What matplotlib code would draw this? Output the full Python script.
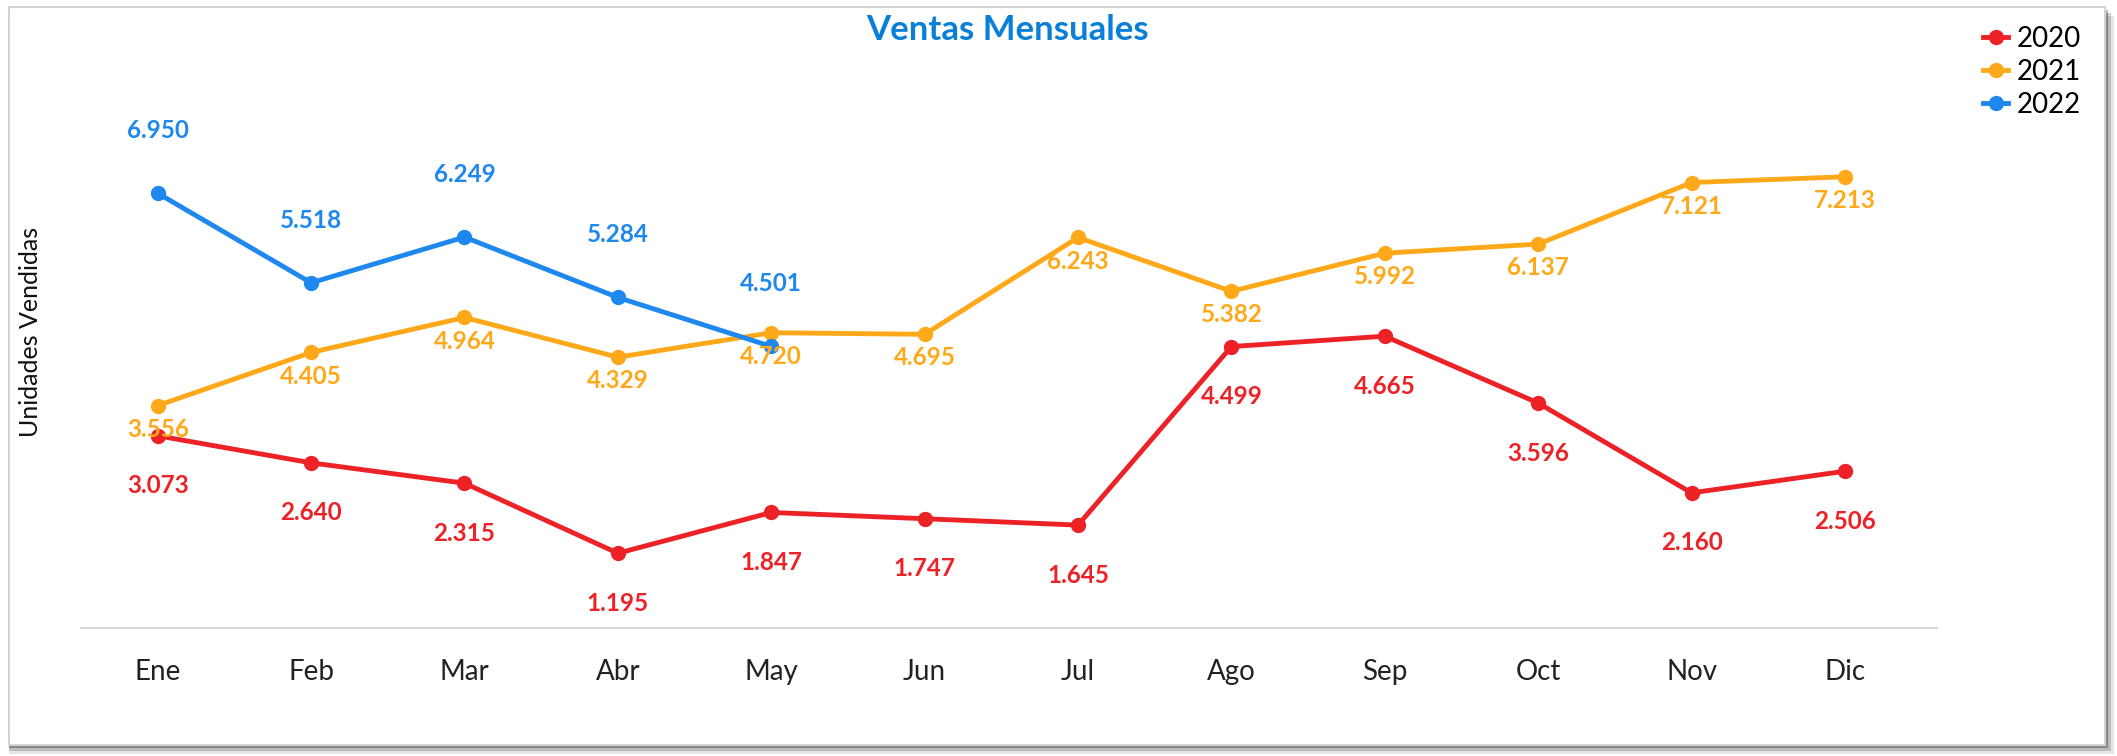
import numpy as np
import matplotlib.pyplot as plt
from matplotlib.patches import Rectangle
from matplotlib.lines import Line2D

months = ['Ene', 'Feb', 'Mar', 'Abr', 'May', 'Jun', 'Jul', 'Ago', 'Sep', 'Oct', 'Nov', 'Dic']
ventas_2020 = [3073, 2640, 2315, 1195, 1847, 1747, 1645, 4499, 4665, 3596, 2160, 2506]
ventas_2021 = [3556, 4405, 4964, 4329, 4720, 4695, 6243, 5382, 5992, 6137, 7121, 7213]
ventas_2022 = [6950, 5518, 6249, 5284, 4501]

c2020 = '#EC2227'
c2021 = '#FFA91A'
c2022 = '#1E88EE'

plt.rcParams['font.family'] = ['Lato', 'DejaVu Sans']

W, H = 2117, 756
fig = plt.figure(figsize=(W / 100, H / 100), dpi=100)
fig.patch.set_facecolor('white')

# frame with a soft shadow
for i, a in enumerate([0.10, 0.18, 0.28]):
    off = 9 - 3 * i
    fig.patches.append(Rectangle((9 / W, (H - 745 - off) / H), (2096 + off) / W, (738) / H,
                                 transform=fig.transFigure, facecolor='#000000', alpha=a,
                                 edgecolor='none', zorder=0))
fig.patches.append(Rectangle((9 / W, (H - 745) / H), 2096 / W, 738 / H,
                             transform=fig.transFigure, facecolor='white',
                             edgecolor='#D4D4D4', linewidth=1.5, zorder=1))

ax = fig.add_axes([81 / W, 1 - 628 / H, (1937 - 81) / W, (628 - 65) / H])
ax.set_facecolor('none')
ax.set_zorder(2)

x = np.arange(len(months))
series = [(ventas_2020, c2020, '2020', -36), (ventas_2021, c2021, '2021', -17),
          (ventas_2022, c2022, '2022', 45)]
for vals, col, lab, dy in series:
    xs = x[:len(vals)]
    ax.plot(xs, vals, color=col, lw=3.5, marker='o', ms=10, label=lab,
            solid_capstyle='round', zorder=3)
    for xi, v in zip(xs, vals):
        txt = f'{v:,}'.replace(',', '.')
        ax.annotate(txt, (xi, v), xytext=(0, dy), textcoords='offset points',
                    ha='center', va='center', color=col, fontsize=17.5,
                    fontweight='bold', zorder=4)

ax.set_xlim(-0.5, 11.6)
ax.set_ylim(0, 9000)
ax.set_xticks(x)
ax.set_xticklabels(months, fontsize=20, color='#222222')
ax.tick_params(axis='x', length=0, pad=22)
ax.set_yticks([])
for s in ['top', 'right', 'left']:
    ax.spines[s].set_visible(False)
ax.spines['bottom'].set_color('#D9D9D9')
ax.spines['bottom'].set_linewidth(1.5)

fig.text(1008 / W, 1 - 30 / H, 'Ventas Mensuales', ha='center', va='center',
         fontsize=25, fontweight='bold', color='#0A7FD8')
fig.text(31 / W, 1 - 332 / H, 'Unidades Vendidas', ha='center', va='center',
         rotation=90, fontsize=18, color='#111111')

handles = [Line2D([], [], color=c, lw=3.5, marker='o', ms=10) for c in (c2020, c2021, c2022)]
fig.legend(handles, ['2020', '2021', '2022'], loc='upper right',
           bbox_to_anchor=(2106 / W, 1 - 1 / H), frameon=False, fontsize=20,
           handlelength=0.9, handletextpad=0.3, labelspacing=0.25)

fig.savefig('out.png', dpi=100)
